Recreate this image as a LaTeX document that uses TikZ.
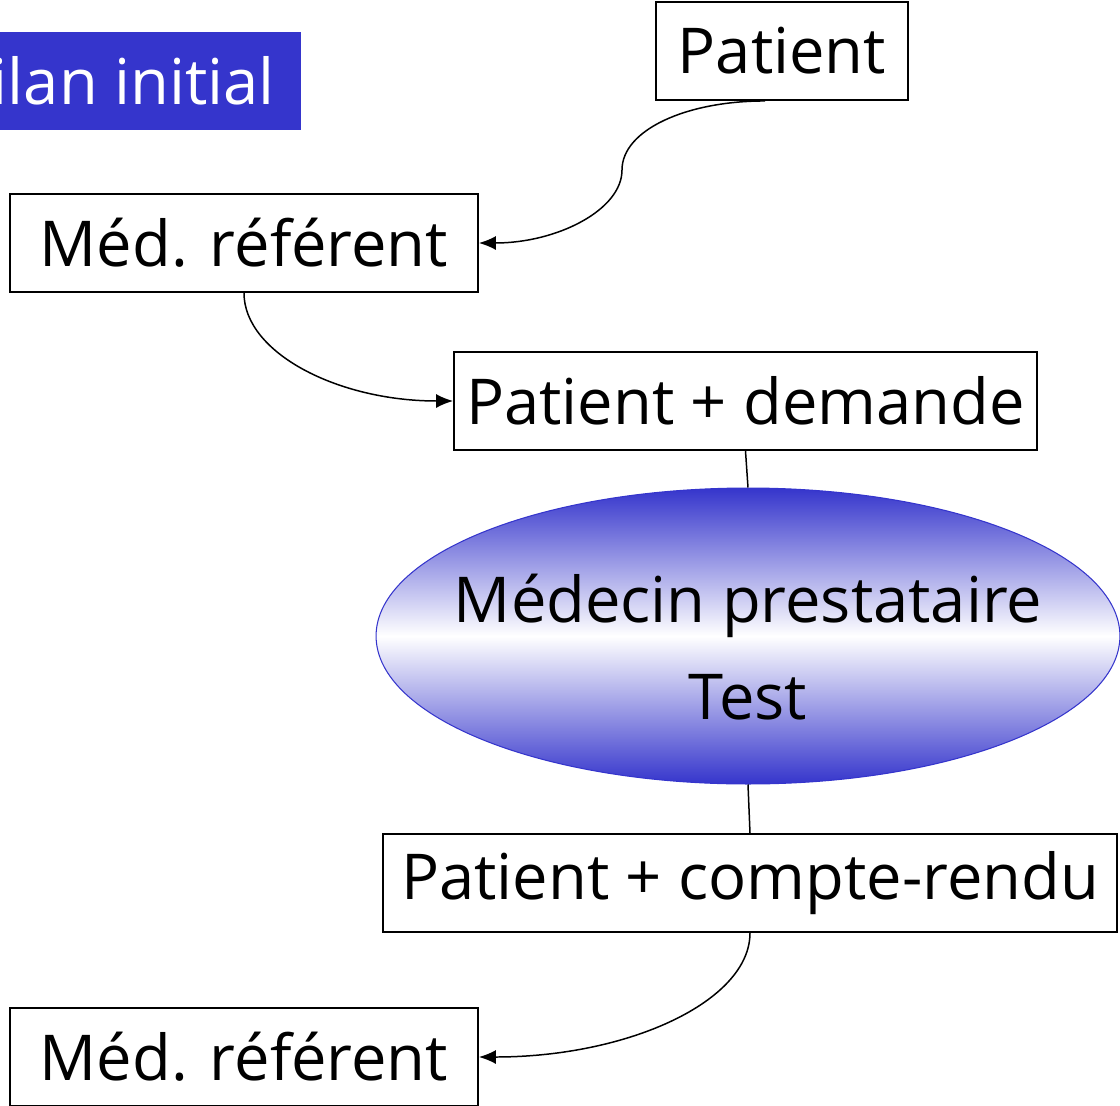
\documentclass[tikz,border=0pt]{standalone}
\usepackage{fontspec}
\setmainfont{Open Sans}
\usetikzlibrary{arrows.meta,shapes.geometric}
\definecolor{bilanblue}{RGB}{53,53,204}
\begin{document}
\begin{tikzpicture}[x=0.02cm,y=-0.02cm,
  boite/.style={rectangle,draw=black,line width=1.1pt,minimum height=1.96cm,inner sep=0pt,font=\fontsize{36}{44}\selectfont},
  fleche/.style={-{Latex[length=0.34cm,width=0.28cm]},line width=0.85pt},
  lien/.style={line width=0.85pt}]
\useasboundingbox (0,0) rectangle (1120,1106);
\clip (0,0) rectangle (1120,1106);
% title, cut at the left edge
\node[rectangle,fill=bilanblue,text=white,anchor=east,minimum height=1.96cm,inner xsep=0.52cm,font=\fontsize{36}{44}\selectfont] (bilan) at (301,81) {Bilan initial};
% boxes
\node[boite,minimum width=5.04cm] (patient) at (782,51) {Patient};
\node[boite,minimum width=9.36cm] (ref1) at (244,243) {Méd. référent};
\node[boite,minimum width=11.66cm] (demande) at (745.5,401) {Patient + demande};
\node[ellipse,draw=bilanblue,line width=0.6pt,minimum width=14.88cm,minimum height=5.92cm,inner sep=0pt,
  top color=bilanblue,bottom color=bilanblue,middle color=white,align=center,
  font=\fontsize{36}{55}\selectfont] (prest) at (748,636) {\makebox[0pt]{\rule{0pt}{40pt}Médecin prestataire}\\\makebox[0pt]{Test}};
\node[boite,minimum width=14.68cm] (compte) at (750,883) {Patient + compte-rendu};
\node[boite,minimum width=9.36cm] (ref2) at (244,1057) {Méd. référent};
% connectors
\coordinate (pli) at (622,170);
\draw[fleche] ([xshift=-0.34cm]patient.south) .. controls +(-79,0) and +(0,-40) .. (pli)
  .. controls +(0,40) and +(78,0) .. (ref1.east);
\draw[fleche] (ref1.south) .. controls +(0,60) and +(-115,0) .. (demande.west);
\draw[lien] (demande.south) -- (prest.north);
\draw[lien] (prest.south) -- (compte.north);
\draw[fleche] (compte.south) .. controls +(0,68) and +(150,0) .. (ref2.east);
\end{tikzpicture}
\end{document}
